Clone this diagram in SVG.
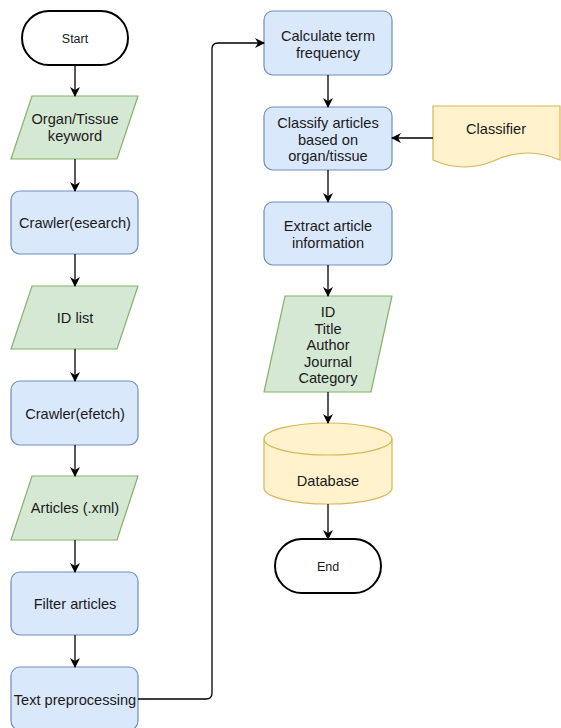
<svg xmlns="http://www.w3.org/2000/svg" width="561" height="728" viewBox="0 0 561 728">
<defs>
<marker id="arr" viewBox="0 0 10 10" refX="9" refY="5" markerWidth="10" markerHeight="10" markerUnits="userSpaceOnUse" orient="auto">
<path d="M0,0 L10,5 L0,10 L3,5 Z" fill="#000"/>
</marker>
</defs>
<style>
text{font-family:"Liberation Sans",Arial,sans-serif;font-size:14.6px;fill:#1a1a1a;text-anchor:middle}
.term{fill:#fff;stroke:#000;stroke-width:2}
.blue{fill:#dae8fc;stroke:#6c8ebf;stroke-width:1.2}
.green{fill:#d5e8d4;stroke:#82b366;stroke-width:1.2}
.yellow{fill:#fff2cc;stroke:#d6b656;stroke-width:1.2}
.small{font-size:12.5px}
#connectors path{fill:none;stroke:#000;stroke-width:1.3;marker-end:url(#arr)}
</style>
<rect width="561" height="728" fill="#fff"/>
<g id="start"><rect class="term" x="22" y="11" width="106" height="54" rx="27"/><text class="small" x="75" y="42.5">Start</text></g>
<g id="organ"><polygon class="green" points="32,96 138,96 117,159 11,159"/><text x="75" y="124">Organ/Tissue</text><text x="75" y="141">keyword</text></g>
<g id="esearch"><rect class="blue" x="11" y="191" width="127" height="63" rx="9"/><text x="75" y="228">Crawler(esearch)</text></g>
<g id="idlist"><polygon class="green" points="32,286 138,286 117,349 11,349"/><text x="75" y="323">ID list</text></g>
<g id="efetch"><rect class="blue" x="11" y="381" width="127" height="64" rx="9"/><text x="75" y="418.5">Crawler(efetch)</text></g>
<g id="articles"><polygon class="green" points="32,476 138,476 117,540 11,540"/><text x="75" y="513">Articles (.xml)</text></g>
<g id="filter"><rect class="blue" x="11" y="572" width="127" height="63" rx="9"/><text x="75" y="609">Filter articles</text></g>
<g id="preproc"><rect class="blue" x="11" y="667" width="127" height="63" rx="9"/><text x="75" y="705">Text preprocessing</text></g>
<g id="termfreq"><rect class="blue" x="264" y="11" width="128" height="64" rx="9"/><text x="328" y="41">Calculate term</text><text x="328" y="57.5">frequency</text></g>
<g id="classify"><rect class="blue" x="264" y="107" width="128" height="63" rx="9"/><text x="328" y="128">Classify articles</text><text x="328" y="144.5">based on</text><text x="328" y="161">organ/tissue</text></g>
<g id="classifier"><path class="yellow" d="M433,106 H560 V160 Q528,146 496,160 Q464,174 433,160 Z"/><text x="496" y="134">Classifier</text></g>
<g id="extract"><rect class="blue" x="264" y="202" width="128" height="63" rx="9"/><text x="328" y="231">Extract article</text><text x="328" y="248">information</text></g>
<g id="info"><polygon class="green" points="285,296 392,296 371,392 264,392"/><text x="328" y="317">ID</text><text x="328" y="333.5">Title</text><text x="328" y="350">Author</text><text x="328" y="366.5">Journal</text><text x="328" y="383">Category</text></g>
<g id="database"><path class="yellow" d="M264,439 A64,16 0 0 1 392,439 V488 A64,16 0 0 1 264,488 Z"/><path class="yellow" d="M264,439 A64,16 0 0 0 392,439" style="fill:none"/><text x="328" y="486">Database</text></g>
<g id="end"><rect class="term" x="275" y="539" width="106" height="54" rx="27"/><text class="small" x="328" y="571">End</text></g>
<g id="connectors">
<path d="M75,65 V96"/>
<path d="M75,159 V191"/>
<path d="M75,254 V286"/>
<path d="M75,349 V381"/>
<path d="M75,445 V476"/>
<path d="M75,540 V572"/>
<path d="M75,635 V667"/>
<path d="M138,699 H206 Q212,699 212,693 V49 Q212,43 218,43 H264"/>
<path d="M328,75 V107"/>
<path d="M433,138 H392"/>
<path d="M328,170 V202"/>
<path d="M328,265 V296"/>
<path d="M328,392 V423"/>
<path d="M328,504 V539"/>
</g>
</svg>
